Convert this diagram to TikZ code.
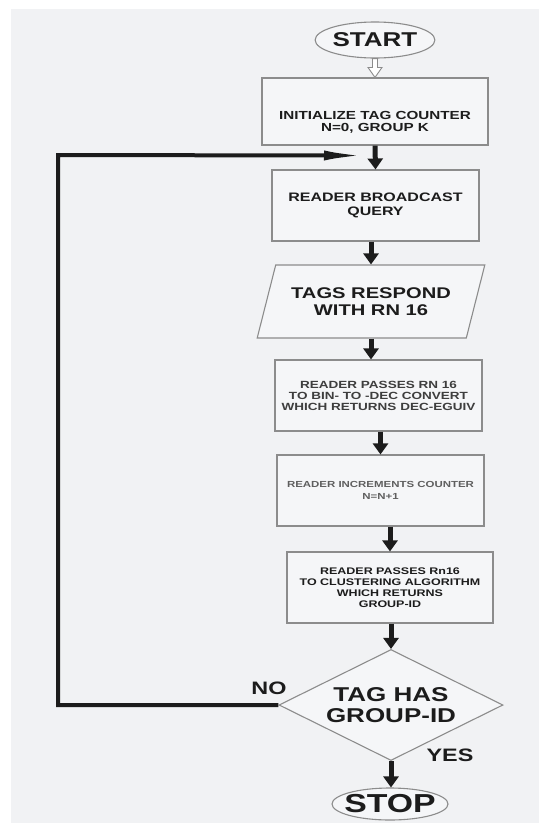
\documentclass[tikz,border=0pt]{standalone}
\usepackage{fontspec}
\setmainfont{Liberation Sans}
\newfontfamily\flowfont{Liberation Sans}[FakeStretch=1.3]
\usetikzlibrary{arrows.meta,shapes.geometric,calc}
\definecolor{FlowBg}{RGB}{241,242,244}
\definecolor{FlowBox}{RGB}{245,246,248}
\definecolor{FlowEdge}{RGB}{140,140,140}
\definecolor{FlowInk}{RGB}{28,28,28}
\definecolor{FlowGrey}{RGB}{95,95,95}

\begin{document}
\begin{tikzpicture}[x=1pt, y=-1pt,
        box/.style={draw=FlowEdge, fill=FlowBox, line width=1.1pt, minimum width=207pt,
                    minimum height=71pt, inner sep=0pt, align=center, text=FlowInk},
        term/.style={ellipse, draw=FlowEdge, fill=FlowBox, line width=1.1pt, inner sep=0pt,
                    text=FlowInk},
        arr/.style={draw=FlowInk, line width=5pt, -{Triangle[length=11pt,width=15pt]}},
        hollow/.style={draw=FlowEdge, fill=white, line width=0.9pt, line join=miter},
        looparr/.style={draw=FlowInk, line width=4pt, line join=miter,
                    -{Latex[length=42pt,width=10pt]}},
        lbl/.style={font=\flowfont\bfseries\fontsize{18}{18}\selectfont, text=FlowInk}
]
    % page and grey panel
    \fill[white] (0,0) rectangle (539,823);
    \fill[FlowBg] (11,9) rectangle (539,823);
    \useasboundingbox (0,0) rectangle (539,823);

    \node[term, minimum width=118pt, minimum height=36pt,
          font=\flowfont\bfseries\fontsize{20}{20}\selectfont] (start) at (375,40) {START};
    \node[box, minimum width=226pt, minimum height=67pt,
          font=\flowfont\bfseries\fontsize{11.7}{12.5}\selectfont]
          (init) at (375,111.5) {\rule{0pt}{30pt}INITIALIZE TAG COUNTER\\N=0, GROUP K};
    \node[box, font=\flowfont\bfseries\fontsize{12.3}{14}\selectfont]
          (query) at (375.5,205.5) {READER BROADCAST\\QUERY};
    \node[box, trapezium, trapezium left angle=61, trapezium right angle=119,
          trapezium stretches=true, minimum width=228pt, minimum height=73pt,
          font=\flowfont\bfseries\fontsize{15.5}{17}\selectfont]
          (respond) at (371,301.5) {TAGS RESPOND\\WITH RN 16};
    \node[box, font=\flowfont\bfseries\fontsize{10.4}{11}\selectfont, text=FlowInk!85]
          (convert) at (378.5,395.5) {READER PASSES RN 16\\TO BIN- TO -DEC CONVERT\\WHICH RETURNS DEC-EGUIV};
    \node[box, font=\flowfont\bfseries\fontsize{8.8}{11.5}\selectfont, text=FlowGrey]
          (count) at (380.5,490.5) {READER INCREMENTS COUNTER\\N=N+1};
    \node[box, minimum width=206pt, font=\flowfont\bfseries\fontsize{9.6}{11}\selectfont]
          (cluster) at (390,587.5) {READER PASSES Rn16\\TO CLUSTERING ALGORITHM\\WHICH RETURNS\\GROUP-ID};
    \node[box, diamond, aspect=2, minimum width=224pt, minimum height=111pt,
          font=\flowfont\bfseries\fontsize{20}{21}\selectfont]
          (check) at (391,705) {TAG HAS\\GROUP-ID};
    \node[term, minimum width=116pt, minimum height=32pt, inner xsep=-6pt,
          font=\flowfont\bfseries\fontsize{26}{26}\selectfont] (stop) at (390,804) {STOP};

    \node[lbl] (lblno)  at (269,688) {NO};
    \node[lbl] (lblyes) at (450,755) {YES};

    \coordinate (loopcorner) at (58,155);
    \coordinate (merge) at ($(init.south)+(-9,10)$);

    % hollow arrow under START
    \draw[hollow] ($(start.south)+(-2.5,0)$) -- ($(init.north)+(-2.5,-10)$)
        -- ($(init.north)+(-7,-10)$) -- (init.north) -- ($(init.north)+(7,-10)$)
        -- ($(init.north)+(2.5,-10)$) -- ($(start.south)+(2.5,0)$) -- cycle;

    \draw[arr] (init.south) -- (query.north);
    \draw[arr] (query.south -| respond.north) -- (respond.north);
    \draw[arr] (respond.south) -- (respond.south |- convert.north);
    \draw[arr] (convert.south -| count.north) -- (count.north);
    \draw[arr] (count.south -| cluster.north) -- (cluster.north);
    \draw[arr] (cluster.south -| check.north) -- (check.north);
    \draw[arr] (check.south) -- (check.south |- stop.north);
    \draw[looparr] (check.west) -| (loopcorner) -- (merge);
\end{tikzpicture}
\end{document}
